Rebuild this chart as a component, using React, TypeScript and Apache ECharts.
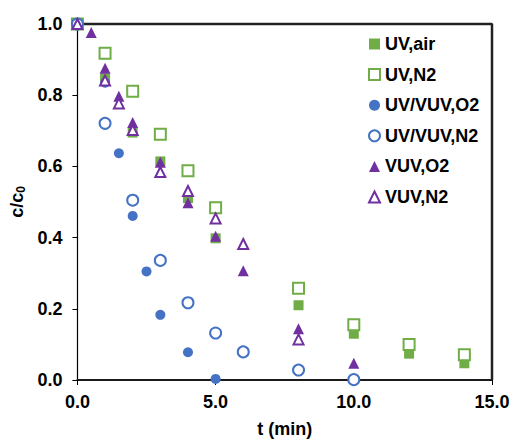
import React, { useEffect, useRef } from "react";
import * as echarts from "echarts";

const uvAirX = [0, 1, 2, 3, 4, 5, 8, 10, 12, 14];
const uvAirY = [1.0, 0.847, 0.695, 0.614, 0.511, 0.398, 0.21, 0.13, 0.074, 0.047];

const uvN2X = [0, 1, 2, 3, 4, 5, 8, 10, 12, 14];
const uvN2Y = [1.0, 0.918, 0.811, 0.69, 0.588, 0.484, 0.258, 0.155, 0.1, 0.071];

const uvVuvO2X = [0, 1, 1.5, 2, 2.5, 3, 4, 5];
const uvVuvO2Y = [1.0, 0.835, 0.637, 0.461, 0.305, 0.183, 0.078, 0.003];

const uvVuvN2X = [0, 1, 2, 3, 4, 5, 6, 8, 10];
const uvVuvN2Y = [1.0, 0.721, 0.505, 0.336, 0.217, 0.132, 0.079, 0.028, 0.001];

const vuvO2X = [0, 0.5, 1, 1.5, 2, 3, 4, 5, 6, 8, 10];
const vuvO2Y = [1.0, 0.976, 0.876, 0.797, 0.723, 0.612, 0.498, 0.404, 0.307, 0.144, 0.047];

const vuvN2X = [0, 1, 1.5, 2, 3, 4, 5, 6, 8];
const vuvN2Y = [1.0, 0.841, 0.777, 0.702, 0.584, 0.531, 0.454, 0.382, 0.114];

const seriesNames = ["UV,air", "UV,N2", "UV/VUV,O2", "UV/VUV,N2", "VUV,O2", "VUV,N2"];

const X_MIN = 0;
const X_MAX = 15;
const Y_MIN = 0;
const Y_MAX = 1;

const GREEN = "#70AD47";
const BLUE = "#4472C4";
const PURPLE = "#7030A0";
const FONT = "'Liberation Sans', Arial, sans-serif";

function pts(xs: number[], ys: number[]) {
  return xs.map((x, i) => [x, ys[i]]);
}

export default function App() {
  const ref = useRef<HTMLDivElement>(null);
  useEffect(() => {
    if (!ref.current) return;
    const chart = echarts.init(ref.current, undefined, { renderer: "svg" });
    const filled = (name: string, xs: number[], ys: number[], symbol: string, color: string, size: number) => ({
      name,
      type: "scatter",
      symbol,
      symbolSize: size,
      data: pts(xs, ys),
      itemStyle: { color, opacity: 1 },
      z: 6,
    });
    const open = (name: string, xs: number[], ys: number[], symbol: string, color: string, size: number) => ({
      name,
      type: "scatter",
      symbol,
      symbolSize: size,
      data: pts(xs, ys),
      itemStyle: { color: "#fff", borderColor: color, borderWidth: 2, opacity: 1 },
      z: 6,
    });
    chart.setOption({
      animation: false,
      backgroundColor: "#fff",
      textStyle: { fontFamily: FONT },
      grid: { left: 77, right: 22, top: 24, bottom: 60 },
      legend: {
        data: seriesNames,
        orient: "vertical",
        left: 363,
        top: 30,
        itemWidth: 11,
        itemHeight: 11,
        itemGap: 12.6,
        textStyle: { fontFamily: FONT, fontWeight: "bold", fontSize: 18, color: "#000", lineHeight: 18 },
      },
      xAxis: {
        type: "value",
        min: X_MIN,
        max: X_MAX,
        interval: 5,
        name: "t (min)",
        nameLocation: "middle",
        nameGap: 40,
        nameTextStyle: { fontFamily: FONT, fontWeight: "bold", fontSize: 18, color: "#000" },
        axisLine: { show: true, onZero: false, lineStyle: { color: "#1a1a1a", width: 2 } },
        axisTick: { show: true, inside: false, length: 5, lineStyle: { color: "#000", width: 1 } },
        axisLabel: {
          margin: 13,
          fontFamily: FONT,
          fontWeight: "bold",
          fontSize: 18,
          color: "#000",
          formatter: (v: number) => v.toFixed(1),
        },
        splitLine: { show: false },
      },
      yAxis: {
        type: "value",
        min: Y_MIN,
        max: Y_MAX,
        interval: 0.2,
        name: "{a|c/c}{b|0}",
        nameLocation: "middle",
        nameGap: 50,
        nameTextStyle: {
          rich: {
            a: { fontFamily: FONT, fontWeight: "bold", fontSize: 18, color: "#000" },
            b: { fontFamily: FONT, fontWeight: "bold", fontSize: 12, color: "#000", padding: [7, 0, 0, 0] },
          },
        },
        axisLine: { show: true, onZero: false, lineStyle: { color: "#000", width: 1.2 } },
        axisTick: { show: true, inside: false, length: 5, lineStyle: { color: "#000", width: 1 } },
        axisLabel: {
          margin: 15,
          fontFamily: FONT,
          fontWeight: "bold",
          fontSize: 18,
          color: "#000",
          formatter: (v: number) => v.toFixed(1),
        },
        splitLine: { show: false },
      },
      series: [
        {
          name: "frame",
          type: "line",
          data: [[X_MIN, Y_MAX], [X_MAX, Y_MAX], [X_MAX, Y_MIN]],
          symbol: "none",
          silent: true,
          clip: false,
          itemStyle: { color: "#222" },
          lineStyle: { color: "#222", width: 2.5, opacity: 1 },
          z: 5,
        },
        filled(seriesNames[0], uvAirX, uvAirY, "rect", GREEN, 10),
        open(seriesNames[1], uvN2X, uvN2Y, "rect", GREEN, 11),
        filled(seriesNames[2], uvVuvO2X, uvVuvO2Y, "circle", BLUE, 10),
        open(seriesNames[3], uvVuvN2X, uvVuvN2Y, "circle", BLUE, 11),
        filled(seriesNames[4], vuvO2X, vuvO2Y, "triangle", PURPLE, 11),
        open(seriesNames[5], vuvN2X, vuvN2Y, "triangle", PURPLE, 10),
      ],
    });
    return () => chart.dispose();
  }, []);
  return <div ref={ref} style={{ position: "fixed", left: 0, top: 0, width: 514, height: 443 }} />;
}
